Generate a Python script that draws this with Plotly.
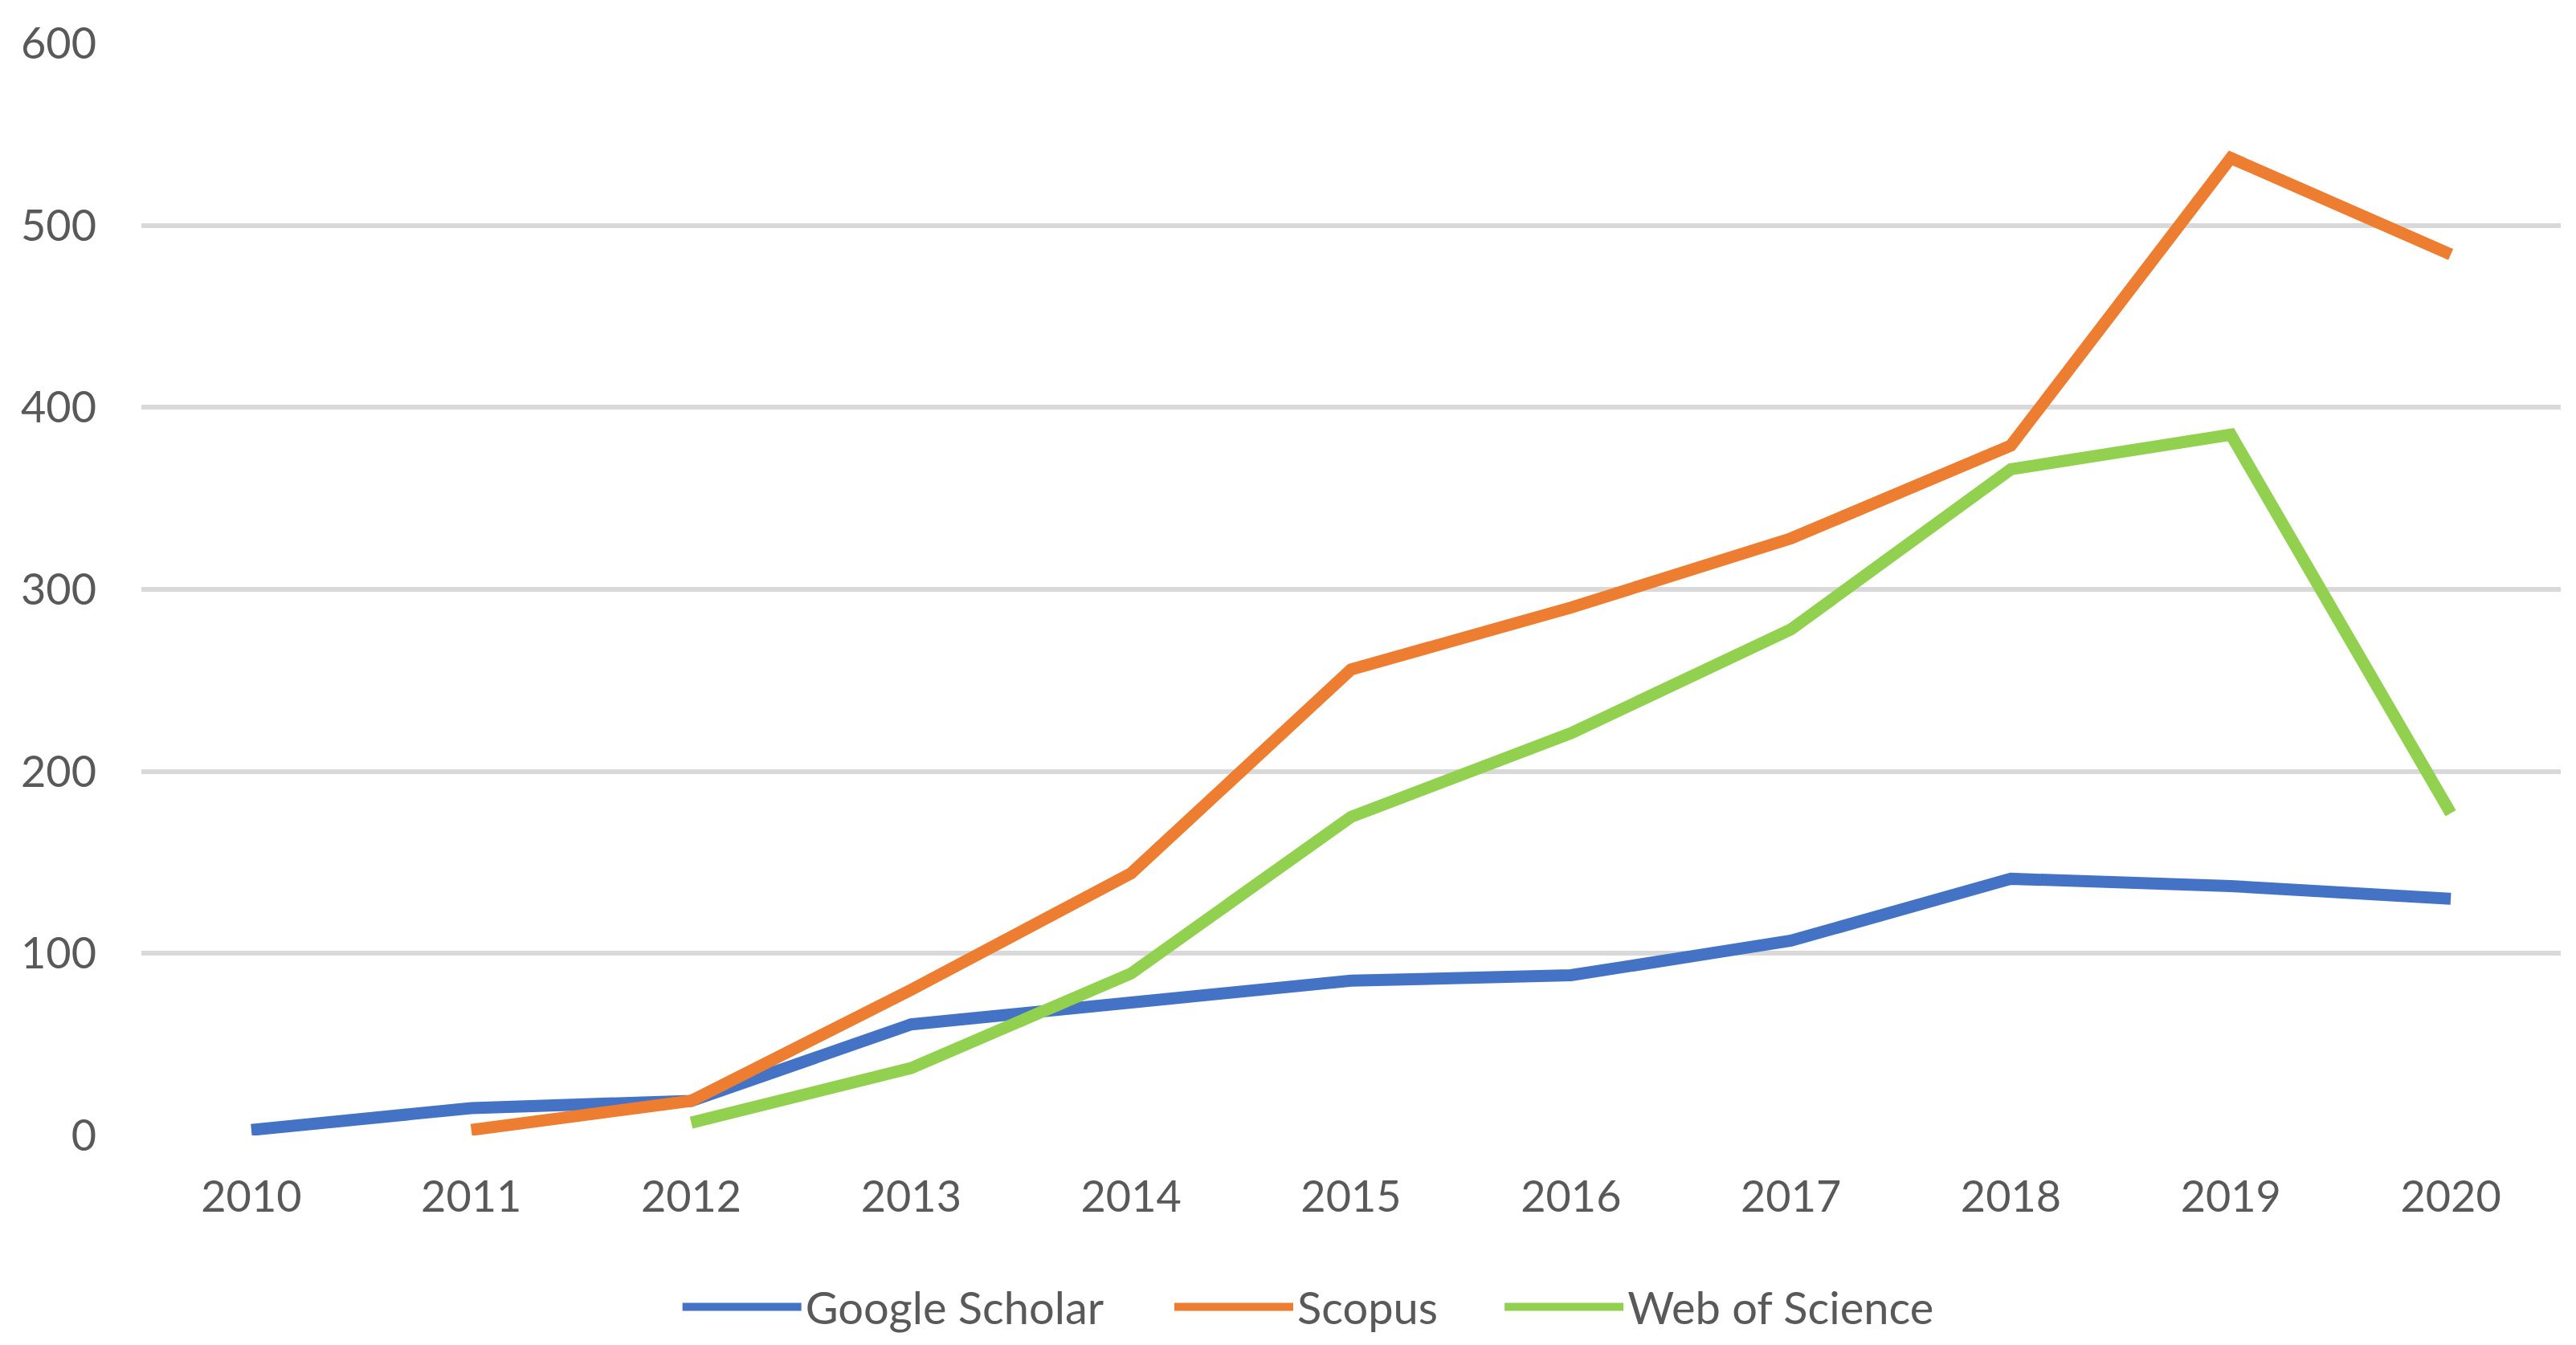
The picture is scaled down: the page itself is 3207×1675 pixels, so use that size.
import plotly.graph_objects as go

years = ["2010", "2011", "2012", "2013", "2014", "2015", "2016", "2017", "2018", "2019", "2020"]
google_scholar = [3, 15, 19, 61, 73, 85, 88, 107, 141, 137, 130]
scopus = [None, 3, 19, 80, 144, 256, 290, 328, 379, 537, 484]
web_of_science = [None, None, 7, 37, 89, 175, 221, 278, 366, 385, 177]

series = [
    ("Google Scholar", google_scholar, "#4472C4", "legend", 0.222),
    ("Scopus", scopus, "#ED7D31", "legend2", 0.4253),
    ("Web of Science", web_of_science, "#92D050", "legend3", 0.5618),
]

font_family = "Lato, Open Sans, sans-serif"
fig = go.Figure()
legends = {}
for name, vals, color, leg, lx in series:
    fig.add_trace(go.Scatter(
        x=years, y=vals, name=name, mode="lines",
        line=dict(color=color, width=15),
        connectgaps=False, legend=leg,
    ))
    legends[leg] = dict(
        orientation="h", x=lx, xanchor="left", y=-0.157, yanchor="middle",
        font=dict(size=56, color="#595959", family=font_family),
        itemwidth=148, bgcolor="rgba(0,0,0,0)",
    )

fig.update_layout(
    width=3207, height=1675,
    margin=dict(l=168, r=27, t=43, b=265),
    paper_bgcolor="white", plot_bgcolor="white",
    font=dict(family=font_family, color="#595959", size=54),
    showlegend=True,
    xaxis=dict(
        type="category", range=[-0.5, 10.5],
        showgrid=False, zeroline=False, showline=False,
        ticks="", ticklabelstandoff=40,
        tickfont=dict(size=54, color="#595959"),
    ),
    yaxis=dict(
        range=[0, 600], tickvals=[0, 100, 200, 300, 400, 500, 600],
        showgrid=True, gridcolor="#D9D9D9", gridwidth=6,
        zeroline=False, showline=False, ticks="",
        ticklabelstandoff=55,
        tickfont=dict(size=54, color="#595959"),
    ),
    **legends,
)

fig.write_html("out.html")
